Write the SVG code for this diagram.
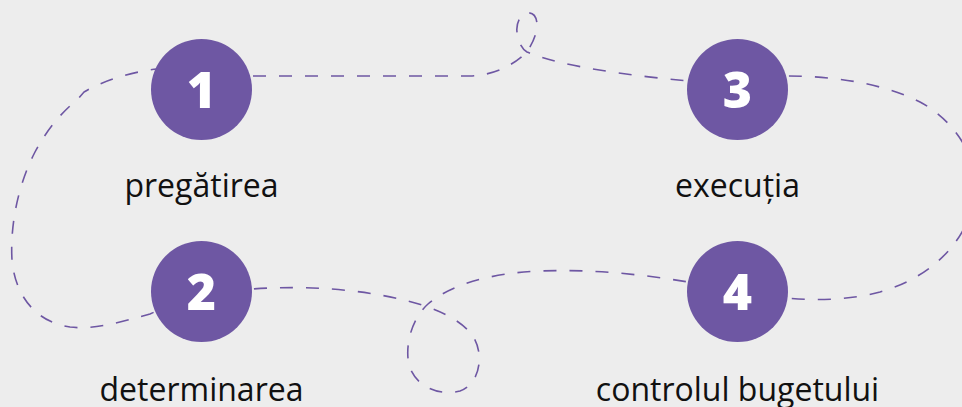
<svg xmlns="http://www.w3.org/2000/svg" width="962" height="407" viewBox="0 0 962 407">
<style>
.bg{fill:#ededed}
.dash{fill:none;stroke:#6e57a3;stroke-width:1.6;stroke-dasharray:13 13}
.dot{fill:#6e57a3}
.num{font-family:"Open Sans","DejaVu Sans",sans-serif;font-weight:800;font-size:50px;fill:#ffffff;text-anchor:middle}
.lbl{font-family:"Open Sans","DejaVu Sans",sans-serif;font-size:32px;fill:#111111;text-anchor:middle}
</style>
<rect class="bg" x="0" y="0" width="962" height="407"/>
<g id="connectors">
<path class="dash" d="M 201 76 L 470 76 C 495 75 512 66 527 52 C 532 44 537 34 537 25 C 537 16 532 12 527 13 C 520 14 516 24 517 32 C 518 42 522 49 527 52 C 560 66 630 76 690 81 L 737 82"/>
<path class="dash" d="M 737 76 L 786 76 C 830 76 880 82 920 102 C 950 118 975 150 975 185 C 975 230 940 275 880 292 C 850 300 815 301 787 298 L 737 291"/>
<path class="dash" d="M 737 291 L 688 282 C 640 274 590 269 540 271 C 490 273 450 285 428 304 C 410 320 404 350 410 368 C 418 388 440 396 460 391 C 480 384 484 355 474 338 C 462 318 430 306 400 299 C 360 290 310 285 252 289 L 201 291"/>
<path class="dash" d="M 201 291 L 150 314 C 120 322 95 330 70 327 C 35 322 15 295 12 260 C 10 225 18 185 35 152 C 48 128 62 112 78 99 L 84 92 C 100 82 130 72 157 69 L 201 76"/>
</g>
<g id="node1">
<circle class="dot" cx="201.5" cy="89.5" r="50.5"/>
<text class="num" x="201.5" y="107.5">1</text>
<text class="lbl" x="201.5" y="197">pregătirea</text>
</g>
<g id="node2">
<circle class="dot" cx="201.5" cy="291.5" r="50.5"/>
<text class="num" x="201.5" y="309.5">2</text>
<text class="lbl" x="201.5" y="401">determinarea</text>
</g>
<g id="node3">
<circle class="dot" cx="737.5" cy="89.5" r="50.5"/>
<text class="num" x="737.5" y="107.5">3</text>
<text class="lbl" x="737.5" y="197">execuția</text>
</g>
<g id="node4">
<circle class="dot" cx="737.5" cy="291.5" r="50.5"/>
<text class="num" x="737.5" y="309.5">4</text>
<text class="lbl" x="737.5" y="401">controlul bugetului</text>
</g>
</svg>
